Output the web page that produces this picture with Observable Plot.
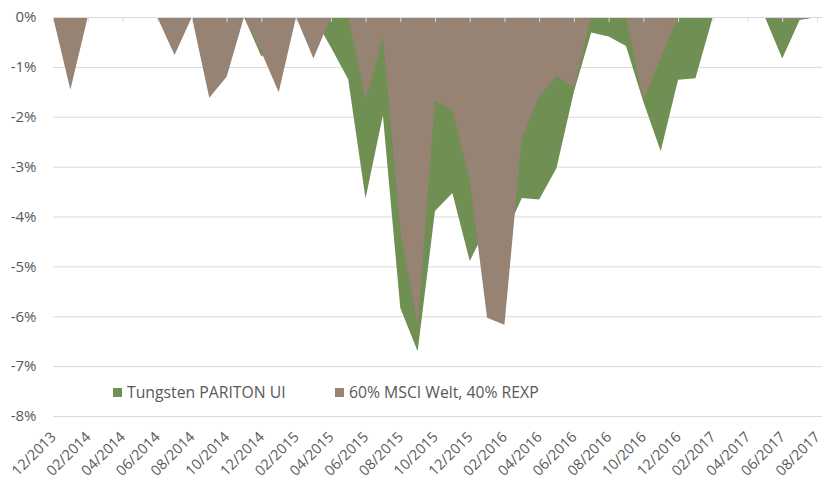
<!DOCTYPE html>
<html>
<head>
<meta charset="utf-8">
<script src="https://cdn.jsdelivr.net/npm/d3@7"></script>
<script src="https://cdn.jsdelivr.net/npm/@observablehq/plot@0.6"></script>
<style>
  body { margin: 0; background: #fff; }
  #wrap { position: relative; width: 824px; height: 483px; font-family: "Open Sans", sans-serif; }
  .leg { position: absolute; top: 381px; height: 22px; display: flex; align-items: center; font-size: 15.75px; color: #595959; white-space: nowrap; }
  .sw { display: inline-block; width: 9px; height: 9px; margin-right: 5px; }
</style>
</head>
<body>
<div id="wrap"></div>
<script>
const months = ["12/2013","01/2014","02/2014","03/2014","04/2014","05/2014","06/2014","07/2014","08/2014","09/2014","10/2014","11/2014",
  "12/2014","01/2015","02/2015","03/2015","04/2015","05/2015","06/2015","07/2015","08/2015","09/2015","10/2015","11/2015",
  "12/2015","01/2016","02/2016","03/2016","04/2016","05/2016","06/2016","07/2016","08/2016","09/2016","10/2016","11/2016",
  "12/2016","01/2017","02/2017","03/2017","04/2017","05/2017","06/2017","07/2017","08/2017"];
const seriesNames = ["Tungsten PARITON UI", "60% MSCI Welt, 40% REXP"];
const tungsten = [0,0,0,0,0,0,0,0,0,0,0,0,
  -0.79,-0.5,0,0,-0.6,-1.25,-3.64,-1.97,-5.83,-6.7,-3.89,-3.53,
  -4.89,-4.2,-4.4,-3.63,-3.66,-3.03,-1.5,-0.31,-0.39,-0.58,-1.7,-2.69,
  -1.26,-1.23,0,0,0,0,-0.83,-0.06,0];
const msci = [0,-1.46,0,0,0,0,0,-0.76,0,-1.62,-1.2,0,
  -0.7,-1.51,0,-0.83,0,0,-1.66,-0.43,-4.26,-6.19,-1.68,-1.86,
  -3.26,-6.03,-6.17,-2.43,-1.59,-1.19,-1.41,0,0,0,-1.66,-0.83,
  0,0,0,0,0,0,-0.05,-0.05,0];
const yTicks = [0,-1,-2,-3,-4,-5,-6,-7,-8];
const colors = ["#6f8f53", "#968374"];

const data = months.map((m, i) => ({i, month: m, t: tungsten[i], b: msci[i]}));
const tickIdx = months.map((m, i) => i).filter(i => i % 2 === 0);

const chart = Plot.plot({
  width: 824,
  height: 483,
  marginTop: 17,
  marginBottom: 67,
  marginLeft: 53,
  marginRight: 2,
  x: {type: "linear", domain: [0, 44.29], axis: null},
  y: {domain: [-8, 0], axis: null},
  style: {fontFamily: "Open Sans", fontSize: "15px", color: "#595959", background: "#fff"},
  marks: [
    Plot.ruleY(yTicks, {stroke: "#d9d9d9", strokeWidth: 1}),
    Plot.areaY(data, {x: "i", y: "t", fill: colors[0]}),
    Plot.areaY(data, {x: "i", y: "b", fill: colors[1]}),
    Plot.ruleY([0], {stroke: "#d9d9d9", strokeWidth: 1}),
    Plot.ruleX(tickIdx, {x: d => d, y1: 0, y2: -0.1, stroke: "#d9d9d9"}),
    Plot.axisY(yTicks, {tickSize: 0, tickPadding: 17, tickFormat: d => d + "%", fill: "#595959", label: null}),
    Plot.axisX(tickIdx, {anchor: "bottom", tickSize: 0, tickPadding: 18, dx: 0, fontSize: 14.5, tickRotate: -45, tickFormat: i => months[i], fill: "#595959", label: null})
  ]
});

const wrap = document.getElementById("wrap");
wrap.appendChild(chart);
const legLefts = [113, 335];
seriesNames.forEach((name, k) => {
  const d = document.createElement("div");
  d.className = "leg";
  d.style.left = legLefts[k] + "px";
  const s = document.createElement("span");
  s.className = "sw";
  s.style.background = colors[k];
  d.appendChild(s);
  d.appendChild(document.createTextNode(name));
  wrap.appendChild(d);
});
</script>
</body>
</html>
